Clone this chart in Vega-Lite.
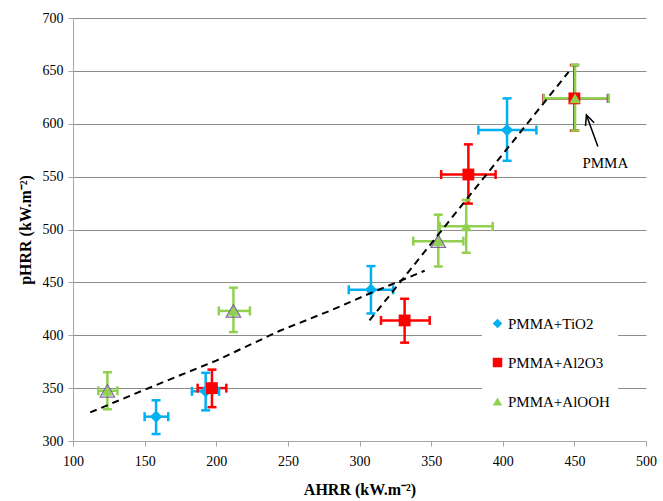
{
  "$schema": "https://vega.github.io/schema/vega-lite/v6.json",
  "autosize": "none",
  "width": 573,
  "height": 423,
  "padding": {"left": 73, "top": 18, "right": 17, "bottom": 60},
  "background": "white",
  "config": {
    "view": {"stroke": null},
    "font": "Liberation Serif",
    "axis": {"labelFont": "Liberation Serif", "titleFont": "Liberation Serif"},
    "legend": {"labelFont": "Liberation Serif"}
  },
  "resolve": {"legend": {"color": "independent", "shape": "independent"}},
  "datasets": {
    "pts": [
      {"series": "PMMA+TiO2", "x": 158, "y": 323, "xlo": 150, "xhi": 166.5, "ylo": 306.6, "yhi": 338.5},
      {"series": "PMMA+TiO2", "x": 192.6, "y": 347, "xlo": 183, "xhi": 202, "ylo": 329, "yhi": 364.5},
      {"series": "PMMA+TiO2", "x": 308, "y": 443, "xlo": 292.5, "xhi": 323.5, "ylo": 420.6, "yhi": 465.4},
      {"series": "PMMA+TiO2", "x": 403, "y": 594, "xlo": 383, "xhi": 423.5, "ylo": 565, "yhi": 624},
      {"series": "PMMA+TiO2", "x": 450, "y": 624, "xlo": 428.5, "xhi": 473.5, "ylo": 593.5, "yhi": 655.5},
      {"series": "PMMA+Al2O3", "x": 197, "y": 350, "xlo": 187, "xhi": 207, "ylo": 332, "yhi": 367.5},
      {"series": "PMMA+Al2O3", "x": 331.5, "y": 414, "xlo": 315, "xhi": 349, "ylo": 393, "yhi": 434.5},
      {"series": "PMMA+Al2O3", "x": 376, "y": 552, "xlo": 357, "xhi": 395, "ylo": 524.5, "yhi": 580.5},
      {"series": "PMMA+Al2O3", "x": 450, "y": 624, "xlo": 428.5, "xhi": 473.5, "ylo": 593.5, "yhi": 655.5},
      {"series": "PMMA+AlOOH", "x": 124, "y": 347.5, "xlo": 117.7, "xhi": 131, "ylo": 330, "yhi": 365},
      {"series": "PMMA+AlOOH", "x": 212, "y": 423, "xlo": 201.8, "xhi": 223.5, "ylo": 403, "yhi": 445},
      {"series": "PMMA+AlOOH", "x": 355, "y": 489, "xlo": 337.5, "xhi": 372.5, "ylo": 465, "yhi": 514},
      {"series": "PMMA+AlOOH", "x": 374.5, "y": 503, "xlo": 356, "xhi": 393, "ylo": 478, "yhi": 528},
      {"series": "PMMA+AlOOH", "x": 450.5, "y": 624, "xlo": 428.8, "xhi": 474, "ylo": 593.6, "yhi": 655.7}
    ],
    "outlined": [
      {"x": 124, "y": 347.5},
      {"x": 212, "y": 423},
      {"x": 355, "y": 489}
    ],
    "trend": [
      {"seg": "a", "x": 112, "y": 327},
      {"seg": "a", "x": 150, "y": 348.5},
      {"seg": "a", "x": 200, "y": 376},
      {"seg": "a", "x": 244, "y": 404},
      {"seg": "a", "x": 280, "y": 423.5},
      {"seg": "a", "x": 308, "y": 440},
      {"seg": "a", "x": 345.5, "y": 461},
      {"seg": "b", "x": 307, "y": 414},
      {"seg": "b", "x": 446, "y": 649}
    ],
    "arrow": [
      {"x": 466.4, "y": 578.4, "xh": 458.4, "yh": 608.3, "label": "PMMA", "tx": 471.6, "ty": 562.7}
    ]
  },
  "layer": [
    {
      "data": {"name": "pts"},
      "mark": {"type": "rule", "strokeWidth": 2.5},
      "encoding": {
        "x": {"field": "x", "type": "quantitative", "scale": {"domain": [100, 500], "nice": false, "zero": false},
          "axis": {"title": "AHRR (kW.m⁻²)", "values": [100,150,200,250,300,350,400,450,500], "grid": false, "labelFlush": false,
            "domainColor": "#a6a6a6", "tickColor": "#a6a6a6", "tickSize": 5, "labelFontSize": 14, "labelColor": "black",
            "labelPadding": 8, "titleFontSize": 16, "titleFontWeight": "bold", "titleColor": "black", "titlePadding": 13}},
        "y": {"field": "ylo", "type": "quantitative", "scale": {"domain": [300, 700], "nice": false, "zero": false},
          "axis": {"title": "pHRR (kW.m⁻²)", "values": [300,350,400,450,500,550,600,650,700], "grid": true, "labelFlush": false,
            "gridColor": "#8c8c8c", "gridWidth": 1, "domainColor": "#a6a6a6", "tickColor": "#a6a6a6", "tickSize": 5,
            "labelFontSize": 14, "labelColor": "black", "labelPadding": 5, "titleFontSize": 16, "titleFontWeight": "bold",
            "titleColor": "black", "titlePadding": 9}},
        "y2": {"field": "yhi"},
        "color": {"field": "series", "type": "nominal", "legend": null,
          "scale": {"domain": ["PMMA+TiO2", "PMMA+Al2O3", "PMMA+AlOOH"], "range": ["#00b0f0", "#ff0000", "#92d050"]}}
      }
    },
    {
      "data": {"name": "pts"},
      "mark": {"type": "rule", "strokeWidth": 2.5},
      "encoding": {
        "x": {"field": "xlo", "type": "quantitative"},
        "x2": {"field": "xhi"},
        "y": {"field": "y", "type": "quantitative"},
        "color": {"field": "series", "type": "nominal", "legend": null}
      }
    },
    {
      "data": {"name": "pts"},
      "mark": {"type": "tick", "orient": "horizontal", "size": 9, "thickness": 2.5, "opacity": 1},
      "encoding": {
        "x": {"field": "x", "type": "quantitative"},
        "y": {"field": "ylo", "type": "quantitative"},
        "color": {"field": "series", "type": "nominal", "legend": null}
      }
    },
    {
      "data": {"name": "pts"},
      "mark": {"type": "tick", "orient": "horizontal", "size": 9, "thickness": 2.5, "opacity": 1},
      "encoding": {
        "x": {"field": "x", "type": "quantitative"},
        "y": {"field": "yhi", "type": "quantitative"},
        "color": {"field": "series", "type": "nominal", "legend": null}
      }
    },
    {
      "data": {"name": "pts"},
      "mark": {"type": "tick", "orient": "vertical", "size": 9, "thickness": 2.5, "opacity": 1},
      "encoding": {
        "x": {"field": "xlo", "type": "quantitative"},
        "y": {"field": "y", "type": "quantitative"},
        "color": {"field": "series", "type": "nominal", "legend": null}
      }
    },
    {
      "data": {"name": "pts"},
      "mark": {"type": "tick", "orient": "vertical", "size": 9, "thickness": 2.5, "opacity": 1},
      "encoding": {
        "x": {"field": "xhi", "type": "quantitative"},
        "y": {"field": "y", "type": "quantitative"},
        "color": {"field": "series", "type": "nominal", "legend": null}
      }
    },
    {
      "data": {"name": "pts"},
      "mark": {"type": "point", "filled": true, "opacity": 1},
      "encoding": {
        "x": {"field": "x", "type": "quantitative"},
        "y": {"field": "y", "type": "quantitative"},
        "color": {"field": "series", "type": "nominal",
          "legend": {"title": null, "orient": "none", "legendX": 409, "legendY": 290, "fillColor": "white",
            "padding": 8, "rowPadding": 23, "symbolSize": 90, "labelFontSize": 15,
            "labelColor": "black", "labelOffset": 3}},
        "shape": {"field": "series", "type": "nominal",
          "scale": {"domain": ["PMMA+TiO2", "PMMA+Al2O3", "PMMA+AlOOH"], "range": ["diamond", "square", "triangle-up"]},
          "legend": {"title": null, "orient": "none", "legendX": 409, "legendY": 290, "fillColor": "white",
            "padding": 8, "rowPadding": 23, "symbolSize": 90, "labelFontSize": 15,
            "labelColor": "black", "labelOffset": 3}},
        "size": {"field": "series", "type": "nominal", "legend": null,
          "scale": {"domain": ["PMMA+TiO2", "PMMA+Al2O3", "PMMA+AlOOH"], "range": [150, 130, 210]}}
      }
    },
    {
      "data": {"name": "outlined"},
      "mark": {"type": "point", "shape": "triangle-up", "filled": false, "stroke": "#7b6a9c", "strokeWidth": 1.2, "size": 210, "opacity": 1},
      "encoding": {
        "x": {"field": "x", "type": "quantitative"},
        "y": {"field": "y", "type": "quantitative"}
      }
    },
    {
      "data": {"name": "trend"},
      "mark": {"type": "line", "color": "black", "strokeWidth": 2, "strokeDash": [7, 5]},
      "encoding": {
        "x": {"field": "x", "type": "quantitative"},
        "y": {"field": "y", "type": "quantitative"},
        "detail": {"field": "seg", "type": "nominal"}
      }
    },
    {
      "data": {"name": "arrow"},
      "mark": {"type": "rule", "color": "black", "strokeWidth": 1.5},
      "encoding": {
        "x": {"field": "x", "type": "quantitative"},
        "y": {"field": "y", "type": "quantitative"},
        "x2": {"field": "xh"},
        "y2": {"field": "yh"}
      }
    },
    {
      "data": {"name": "arrow"},
      "mark": {"type": "point", "shape": "M-0.55,1.2L0,0L0.55,1.2", "filled": false, "stroke": "black", "strokeWidth": 1.5, "size": 280, "angle": -20, "opacity": 1},
      "encoding": {
        "x": {"field": "xh", "type": "quantitative"},
        "y": {"field": "yh", "type": "quantitative"}
      }
    },
    {
      "data": {"name": "arrow"},
      "mark": {"type": "text", "fontSize": 15, "color": "black", "align": "center", "baseline": "middle"},
      "encoding": {
        "x": {"field": "tx", "type": "quantitative"},
        "y": {"field": "ty", "type": "quantitative"},
        "text": {"field": "label"}
      }
    }
  ]
}
